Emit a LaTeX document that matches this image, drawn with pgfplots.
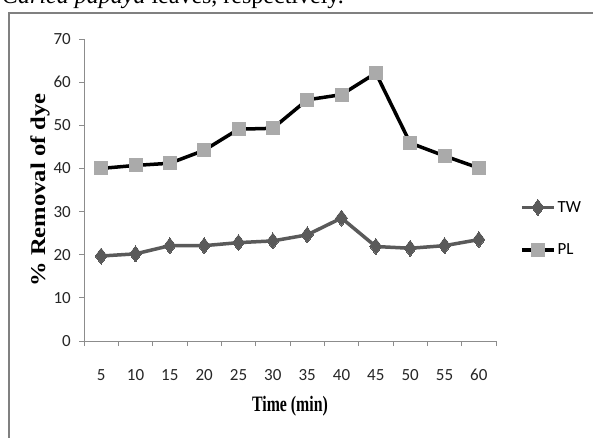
\documentclass[border=0pt]{standalone}
\usepackage{pgfplots}
\pgfplotsset{compat=1.18}
\usepackage{fontspec}
\setmainfont{Liberation Serif}
\newfontfamily\calfont{Carlito}
\definecolor{twc}{RGB}{90,90,90}
\definecolor{plc}{RGB}{170,170,170}
\definecolor{axc}{RGB}{140,140,140}
\definecolor{frc}{RGB}{128,128,128}
\begin{document}
\begin{tikzpicture}
\useasboundingbox (0,0) rectangle (593pt,437pt);
\clip (0,0) rectangle (593pt,437pt);
\fill[white] (0,0) rectangle (593pt,437pt);
\node[anchor=base west, inner sep=0pt, font=\fontsize{24}{24}\selectfont] at (2pt,433pt) {\textit{Carica papaya} leaves, respectively.};
\draw[frc, line width=2pt] (9pt,-5pt) -- (9pt,424pt) -- (600pt,424pt);
\begin{axis}[
  at={(84pt,96pt)}, anchor=origin,
  scale only axis, width=412pt, height=302pt,
  xmin=0.5, xmax=12.5, ymin=0, ymax=70,
  axis lines*=left,
  axis line style={axc, line width=1pt},
  xtick={1,...,12},
  xticklabels={5,10,15,20,25,30,35,40,45,50,55,60},
  minor xtick={0.5,1.5,...,12.5},
  ytick={0,10,...,70},
  tick align=outside,
  major tick length=5pt, minor tick length=5pt,
  x tick style={draw=none},
  minor x tick style={draw=axc, line width=1pt},
  y tick style={draw=axc, line width=1pt},
  /pgf/number format/assume math mode=true,
  tick label style={font=\calfont\fontsize{17}{17}\selectfont, text=black!85},
  xticklabel style={anchor=north, inner sep=0pt, yshift=-23pt},
  yticklabel style={anchor=east, inner sep=0pt, xshift=-8pt},
  clip=false,
  legend style={at={(rel axis cs:1.058,0.47)}, anchor=north west, draw=none, fill=none,
     font=\calfont\fontsize{17}{17}\selectfont, row sep=26pt, inner sep=0pt},
  legend cell align=left,
  legend image code/.code={\draw[mark repeat=2,mark phase=2,#1] plot coordinates {(0pt,0pt) (16pt,0pt) (32pt,0pt)};},
]
\addplot[twc, line width=3.5pt, mark=diamond*, mark size=8pt, mark options={fill=twc, draw=twc, line width=0pt}]
coordinates {(1,19.7) (2,20.2) (3,22.1) (4,22.1) (5,22.8) (6,23.2) (7,24.6) (8,28.5) (9,21.9) (10,21.5) (11,22.1) (12,23.5)};
\addlegendentry{TW}
\addplot[black, line width=3.5pt, mark=square*, mark size=6.5pt, mark options={fill=plc, draw=plc, line width=0pt}]
coordinates {(1,40.0) (2,40.7) (3,41.2) (4,44.2) (5,49.1) (6,49.3) (7,55.9) (8,57.1) (9,62.1) (10,45.9) (11,42.9) (12,40.1)};
\addlegendentry{PL}
\end{axis}
\node[font=\bfseries\fontsize{22}{22}\selectfont, xscale=0.72] at (290pt,31pt) {Time (min)};
\node[font=\bfseries\fontsize{21}{21}\selectfont, rotate=90, xscale=1.17] at (40pt,247pt) {\% Removal of dye};
\end{tikzpicture}
\end{document}
